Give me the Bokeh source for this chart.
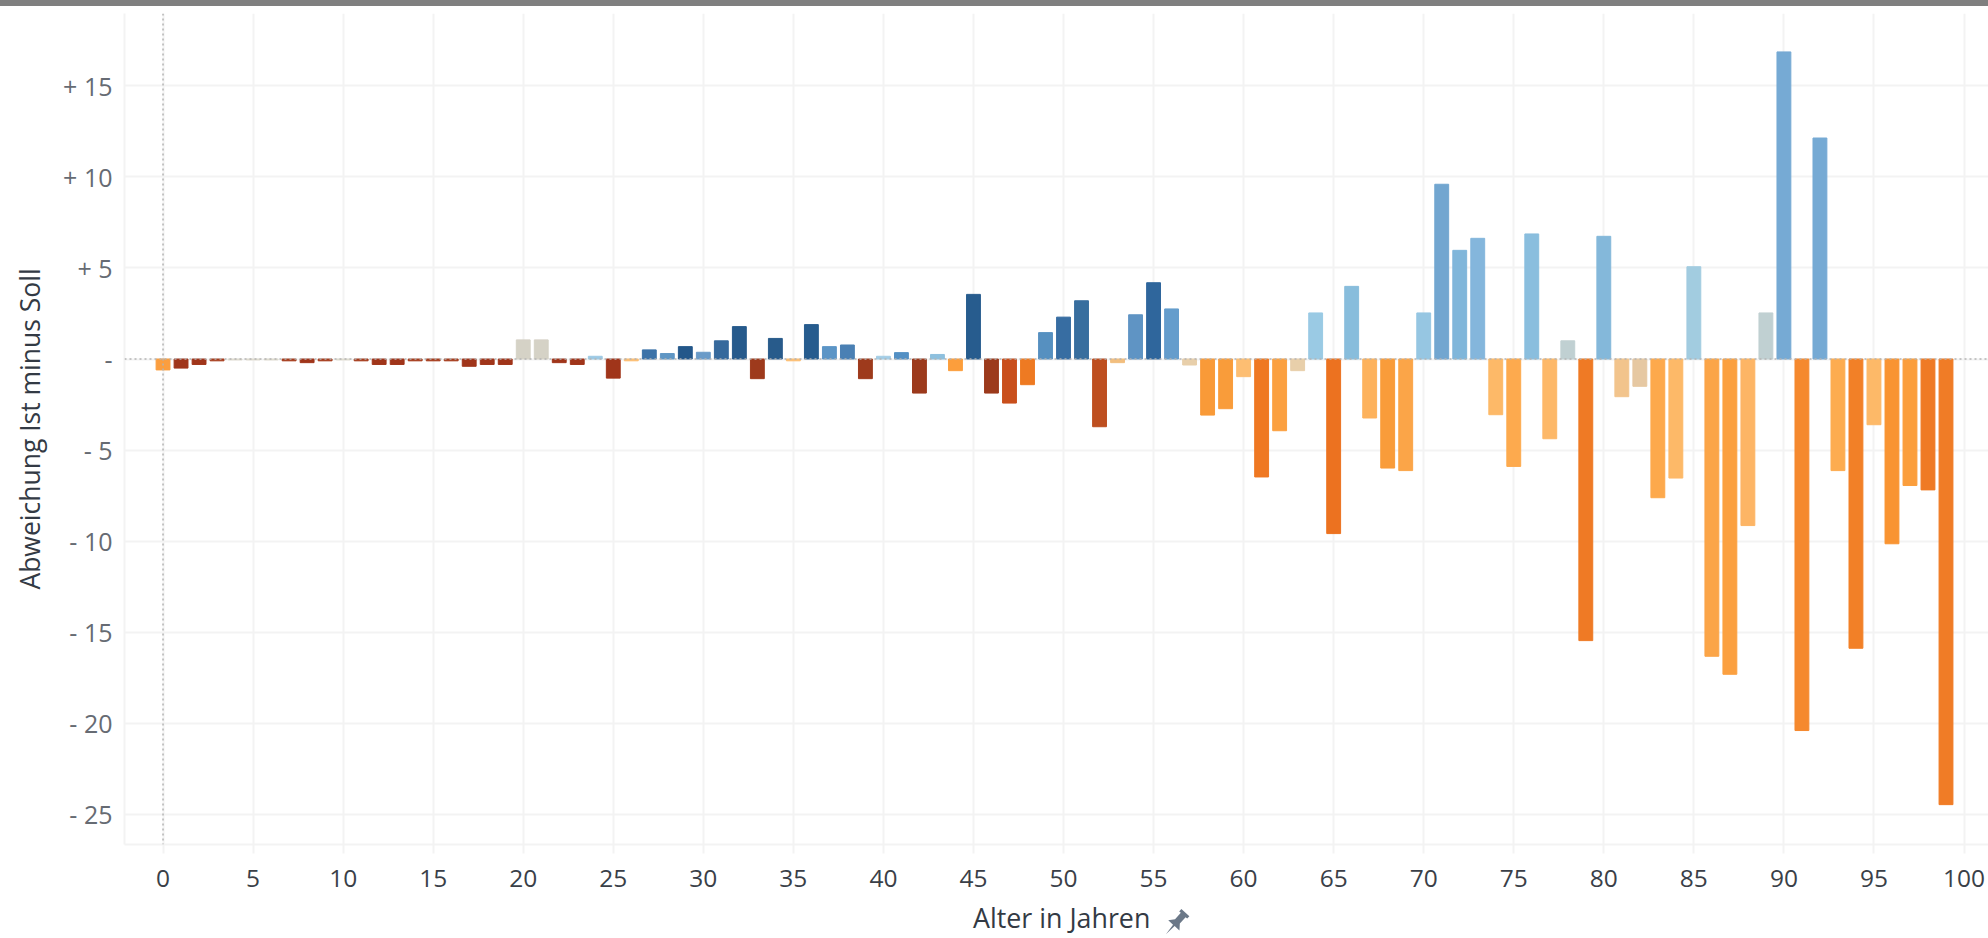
from bokeh.plotting import figure
from bokeh.layouts import column
from bokeh.embed import file_html
from bokeh.resources import INLINE
from bokeh.models import ColumnDataSource, Span, Range1d, FixedTicker, Div

ages = list(range(100))
abweichung = [
    -0.6, -0.5, -0.3, -0.1, -0.05, -0.05, -0.05, -0.1, -0.2, -0.1,
    -0.05, -0.1, -0.3, -0.3, -0.1, -0.1, -0.1, -0.4, -0.3, -0.3,
    1.05, 1.05, -0.2, -0.3, 0.15, -1.05, -0.1, 0.5, 0.3, 0.68,
    0.37, 1.0, 1.78, -1.08, 1.13, -0.1, 1.89, 0.68, 0.77, -1.08,
    0.15, 0.35, -1.87, 0.25, -0.64, 3.55, -1.87, -2.42, -1.41, 1.45,
    2.3, 3.2, -3.72, -0.2, 2.43, 4.19, 2.75, -0.33, -3.08, -2.73,
    -0.97, -6.48, -3.94, -0.64, 2.53, -9.59, 3.99, -3.24, -5.99, -6.13,
    2.53, 9.6, 5.97, 6.63, -3.06, -5.9, 6.87, -4.38, 1.0, -15.47,
    6.74, -2.07, -1.5, -7.62, -6.54, 5.07, -16.33, -17.32, -9.15, 2.53,
    16.87, -20.41, 12.14, -6.13, -15.89, -3.61, -10.15, -6.95, -7.19, -24.48,
]
bar_colors = [
    "#fb9e3f", "#a0351a", "#a0351a", "#a63c1c", "#dfdbce", "#dfdbce", "#dfdbce", "#a63c1c", "#a0351a", "#a63c1c",
    "#dfdbce", "#a63c1c", "#a0351a", "#a0351a", "#a63c1c", "#a63c1c", "#a63c1c", "#a0351a", "#a0351a", "#a0351a",
    "#d5d2c6", "#d5d2c6", "#a0351a", "#a0351a", "#9cc9e4", "#a0351a", "#fdbe72", "#3b72a8", "#5f96c4", "#23578a",
    "#6a9bc8", "#36699c", "#265a8c", "#9e3a1c", "#285b8b", "#fdbe72", "#275c8e", "#5c95c6", "#4a80b4", "#9e3a1c",
    "#a3cde6", "#5490c4", "#9c3a1c", "#8ec0de", "#fc9e3c", "#275c8e", "#9c3a1c", "#c94f1c", "#ee7a22", "#5690c0",
    "#376da2", "#386e9e", "#be4f20", "#f2be7e", "#5f94c4", "#2f669c", "#659dcc", "#e8cfaa", "#f99a38", "#f99c3a",
    "#fdbe72", "#ef7822", "#fba040", "#e8cfaa", "#9acae4", "#ec7220", "#88bddc", "#fdb25c", "#f99c3a", "#fba548",
    "#96c6e2", "#72a6d0", "#80b6da", "#84b6dc", "#fdb968", "#fdaa4e", "#8abede", "#fdb868", "#c0d0d2", "#ef7a25",
    "#84b8da", "#f2c48c", "#e6c8a2", "#fda94c", "#fdb968", "#a2cce0", "#fba548", "#fba040", "#fdb565", "#c0d0d2",
    "#76aad4", "#f5892e", "#76aad4", "#fdac50", "#f28027", "#fdb968", "#f99432", "#fb9e3c", "#ef7a25", "#f07c26",
]
x_ticks = list(range(0, 105, 5))
y_ticks = [15, 10, 5, 0, -5, -10, -15, -20, -25]
y_tick_labels = ["+ 15", "+ 10", "+ 5", "-", "- 5", "- 10", "- 15", "- 20", "- 25"]
x_title = "Alter in Jahren"
y_title = "Abweichung Ist minus Soll"

FONT = "Open Sans"
GRID = "#f3f3f3"

top_bar = Div(text="", width=1988, height=6, margin=0,
              styles={"background-color": "#7f7f7f"})

p = figure(
    width=1988, height=932, output_backend="svg", toolbar_location=None,
    x_range=Range1d(-2.14, 101.36), y_range=Range1d(-26.67, 18.98),
    min_border_left=124, min_border_right=0, min_border_top=7, min_border_bottom=94,
    outline_line_color=None, margin=0,
)
p.background_fill_color = "white"
p.border_fill_color = "white"

src = ColumnDataSource(dict(x=ages, top=abweichung, bottom=[0] * len(ages), color=bar_colors))
p.vbar(x="x", top="top", bottom="bottom", width=0.77, color="color", source=src)

p.xaxis.ticker = FixedTicker(ticks=x_ticks)
p.yaxis.ticker = FixedTicker(ticks=y_ticks)
p.yaxis.major_label_overrides = dict(zip(y_ticks, y_tick_labels))
p.yaxis.axis_label = y_title

p.xgrid.grid_line_color = GRID
p.ygrid.grid_line_color = GRID
p.xgrid.grid_line_width = 2
p.ygrid.grid_line_width = 2

for ax in (p.xaxis[0], p.yaxis[0]):
    ax.axis_line_color = GRID
    ax.axis_line_width = 2
    ax.major_tick_line_color = GRID
    ax.major_tick_line_width = 2
    ax.minor_tick_line_color = None
    ax.major_tick_in = 0
    ax.major_label_text_font = FONT
    ax.axis_label_text_font = FONT
    ax.axis_label_text_font_style = "normal"
    ax.axis_label_text_color = "#333a44"
p.yaxis.major_tick_out = 0
p.xaxis.major_tick_out = 9
p.yaxis.major_label_standoff = 12
p.xaxis.major_label_standoff = 16
p.xaxis.major_label_text_font_size = "24.5px"
p.yaxis.major_label_text_font_size = "25px"
p.xaxis.major_label_text_color = "#3a3f48"
p.yaxis.major_label_text_color = "#666b73"
p.yaxis.axis_label_text_font_size = "26.5px"
p.yaxis.axis_label_standoff = 12

p.add_layout(Span(location=0, dimension="width", line_color="#b4b4b4", line_dash="2 3", line_width=1.5))
p.add_layout(Span(location=0, dimension="height", line_color="#b4b4b4", line_dash="2 3", line_width=1.5))

# x axis title as an HTML element: an axis label this low would squeeze the frame
x_label = Div(
    text=f'<span style="font-family:\'{FONT}\';font-size:26.8px;line-height:26px;color:#333a44;'
         f'white-space:nowrap">{x_title}</span>',
    width=185, height=26, margin=0,
    styles={"position": "absolute", "left": "973px", "top": "905px"},
)

# pin icon beside the x axis title
pin = Div(
    text=('<svg width="28" height="28" viewBox="0 0 26 26">'
          '<g transform="rotate(42 13 13)"><polygon fill="#6b7888" '
          'points="8,0 18,0 18,3 16,3 16,11 20,16 14,16 13,27 12,16 6,16 10,11 10,3 8,3"/></g>'
          '</svg>'),
    width=28, height=28, margin=0,
    styles={"position": "absolute", "left": "1162px", "top": "909px"},
)

layout = column(top_bar, p, x_label, pin, spacing=0, margin=0)
open("out.html", "w").write(file_html(layout, INLINE))
